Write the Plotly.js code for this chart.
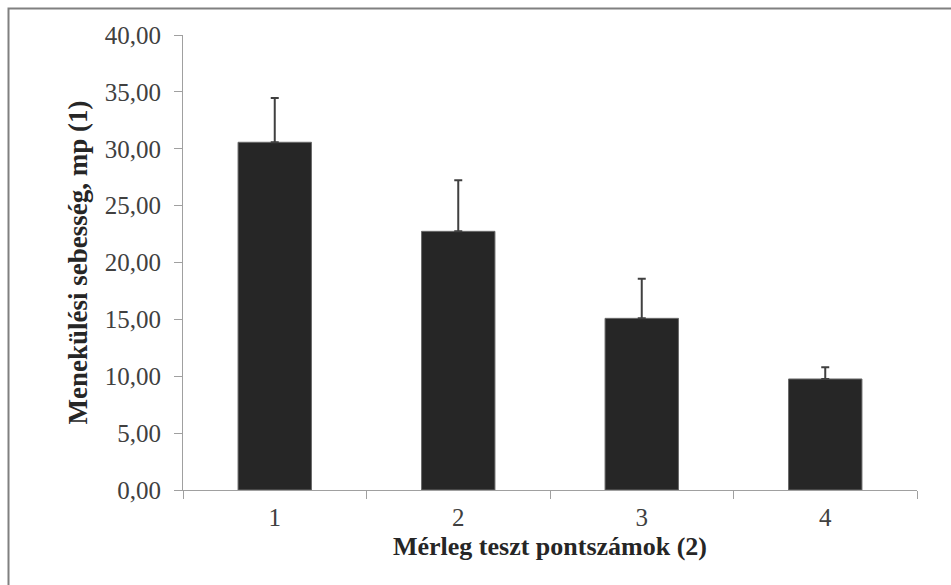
<!DOCTYPE html>
<html>
<head>
<meta charset="utf-8">
<script src="https://cdn.plot.ly/plotly-3.0.1.min.js"></script>
<style>
html,body{margin:0;padding:0;background:#fff;}
#chart{width:951px;height:585px;}
</style>
</head>
<body>
<div id="chart"></div>
<script>
const categories = ['1', '2', '3', '4'];
const means = [30.57, 22.74, 15.09, 9.76];
const errors = [3.89, 4.48, 3.49, 1.03];
const yTicks = [0, 5, 10, 15, 20, 25, 30, 35, 40];

const trace = {
  type: 'bar',
  x: categories,
  y: means,
  width: 0.4,
  marker: {color: '#262626', line: {color: '#6a6a6a', width: 1}},
  error_y: {type: 'data', array: errors, symmetric: false, arrayminus: [0,0,0,0], visible: true, color: '#404040', thickness: 2, width: 4}
};

const serif = 'Liberation Serif, Times New Roman, serif';
const layout = {
  width: 951, height: 585,
  margin: {l: 183, r: 34, t: 35, b: 95},
  paper_bgcolor: '#ffffff',
  plot_bgcolor: '#ffffff',
  separators: ', ',
  showlegend: false,
  bargap: 0.6,
  xaxis: {
    type: 'category',
    tickson: 'boundaries',
    ticks: 'outside', ticklen: 8, tickcolor: '#a0a0a0', tickwidth: 1,
    showline: true, linecolor: '#a0a0a0', linewidth: 1,
    showgrid: false, zeroline: false,
    tickfont: {family: serif, size: 25, color: '#404040'},
    ticklabelstandoff: 5,
    title: {text: '<b>Mérleg teszt pontszámok (2)</b>', font: {family: serif, size: 26, color: '#262626'}, standoff: 6},
    automargin: false
  },
  yaxis: {
    range: [0, 40],
    tickvals: yTicks,
    tickformat: '.2f',
    ticks: 'outside', ticklen: 8, tickcolor: '#a0a0a0', tickwidth: 1,
    showline: true, linecolor: '#a0a0a0', linewidth: 1,
    showgrid: false, zeroline: false,
    tickfont: {family: serif, size: 25, color: '#404040'},
    ticklabelstandoff: 8,
    title: {text: '<b>Menekülési sebesség, mp (1)</b>', font: {family: serif, size: 27, color: '#262626'}, standoff: 9},
    automargin: false
  },
  shapes: [{
    type: 'rect', xref: 'paper', yref: 'paper',
    x0: (8.5 - 183) / 734, x1: (960 - 183) / 734,
    y0: (490 - 600) / 455, y1: 1 + (35 - 8.5) / 455,
    line: {color: '#808080', width: 2}, fillcolor: 'rgba(0,0,0,0)', layer: 'below'
  }]
};

Plotly.newPlot('chart', [trace], layout, {displayModeBar: false, staticPlot: true});
</script>
</body>
</html>
